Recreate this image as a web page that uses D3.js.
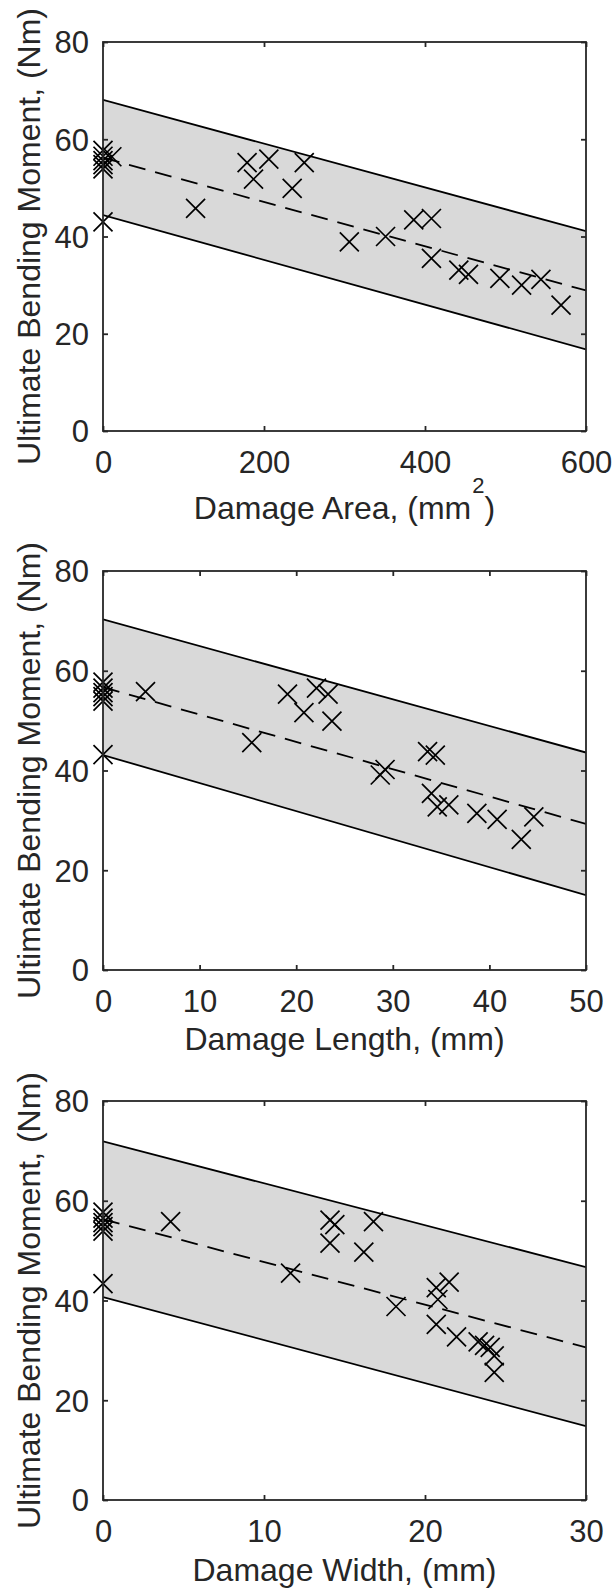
<!DOCTYPE html>
<html><head><meta charset="utf-8">
<script src="https://cdn.jsdelivr.net/npm/d3@7"></script>
<style>
html,body{margin:0;padding:0;background:#fff;}
svg{display:block;}
text{font-family:"Liberation Sans",Arial,sans-serif;fill:#262626;}
</style></head><body>
<svg id="chart" width="614" height="1591"></svg>
<script>
// Ultimate bending moment against three damage measures, with linear fit and bounds

const momentTicks = [0, 20, 40, 60, 80];

// Damage area (mm^2)
const areaTicks = [0, 200, 400, 600];
const areaX = [0, 0, 0, 0, 0, 0, 11, 115, 179, 187, 206, 235, 250, 306, 351, 386, 408, 408, 442, 454, 493, 520, 544, 569];
const areaY = [57.7, 56.5, 55.6, 54.8, 53.9, 43.0, 56.4, 45.8, 55.2, 51.8, 55.9, 49.9, 55.2, 38.9, 40.0, 43.4, 43.7, 35.5, 33.1, 32.2, 31.4, 30.0, 31.2, 25.9];
const areaLineX = [0, 600];
const areaUpper = [68.1, 41.1];
const areaFit = [56.2, 28.9];
const areaLower = [44.4, 16.8];

// Damage length (mm)
const lengthTicks = [0, 10, 20, 30, 40, 50];
const lengthX = [0, 0, 0, 0, 0, 0, 4.4, 15.4, 19.1, 20.8, 22.1, 23.3, 23.7, 28.7, 29.2, 33.6, 34.4, 34.0, 34.6, 35.8, 38.7, 40.8, 43.3, 44.6];
const lengthY = [57.7, 56.5, 55.6, 54.8, 53.9, 43.2, 55.8, 45.6, 55.3, 51.6, 56.5, 55.3, 49.9, 39.1, 40.2, 43.8, 43.1, 35.4, 32.7, 33.1, 31.4, 30.2, 26.2, 30.7];
const lengthLineX = [0, 50];
const lengthUpper = [70.3, 43.6];
const lengthFit = [56.7, 29.3];
const lengthLower = [43.1, 15.0];

// Damage width (mm)
const widthTicks = [0, 10, 20, 30];
const widthX = [0, 0, 0, 0, 0, 0, 4.2, 11.65, 14.1, 14.4, 14.1, 16.2, 16.8, 18.2, 20.7, 21.5, 20.8, 20.7, 21.96, 23.3, 23.7, 24.05, 24.3, 24.3];
const widthY = [57.7, 56.5, 55.6, 54.8, 53.9, 43.4, 55.8, 45.5, 56.1, 55.2, 51.5, 49.7, 55.8, 38.8, 42.6, 43.7, 40.2, 35.2, 32.7, 31.7, 31.0, 30.6, 28.9, 25.6];
const widthLineX = [0, 30];
const widthUpper = [71.9, 46.7];
const widthFit = [56.3, 30.6];
const widthLower = [40.7, 14.8];

const yLabel = "Ultimate Bending Moment, (Nm)";

const panels = [
  {top: 42, bottom: 431, domain: [0, 600], ticks: areaTicks, xs: areaX, ys: areaY,
   lx: areaLineX, up: areaUpper, fit: areaFit, lo: areaLower,
   label: ["Damage Area, (mm", "2", ")"], labelY: 519},
  {top: 571, bottom: 970, domain: [0, 50], ticks: lengthTicks, xs: lengthX, ys: lengthY,
   lx: lengthLineX, up: lengthUpper, fit: lengthFit, lo: lengthLower,
   label: ["Damage Length, (mm)"], labelY: 1050},
  {top: 1101, bottom: 1500, domain: [0, 30], ticks: widthTicks, xs: widthX, ys: widthY,
   lx: widthLineX, up: widthUpper, fit: widthFit, lo: widthLower,
   label: ["Damage Width, (mm)"], labelY: 1581}
];

const left = 103, right = 586;
const axisColor = "#262626";
const tickFont = 31, labelFont = 32;
const svg = d3.select("#chart");

panels.forEach((p, i) => {
  const x = d3.scaleLinear().domain(p.domain).range([left, right]);
  const y = d3.scaleLinear().domain([0, 80]).range([p.bottom, p.top]);
  const g = svg.append("g");
  const clipId = "clip" + i;
  svg.append("clipPath").attr("id", clipId).append("rect")
    .attr("x", left).attr("y", p.top).attr("width", right - left).attr("height", p.bottom - p.top);

  const plot = g.append("g").attr("clip-path", `url(#${clipId})`);

  // shaded band between the bounds
  const band = p.lx.map((v, k) => ({x: v, hi: p.up[k], lo: p.lo[k]}));
  plot.append("path")
    .attr("d", d3.area().x(d => x(d.x)).y0(d => y(d.lo)).y1(d => y(d.hi))(band))
    .attr("fill", "#d9d9d9").attr("stroke", "none");

  const line = d3.line().x(d => x(d[0])).y(d => y(d[1]));
  [p.up, p.lo].forEach(arr => {
    plot.append("path").attr("d", line(p.lx.map((v, k) => [v, arr[k]])))
      .attr("fill", "none").attr("stroke", "#000").attr("stroke-width", 1.8);
  });
  plot.append("path").attr("d", line(p.lx.map((v, k) => [v, p.fit[k]])))
    .attr("fill", "none").attr("stroke", "#000").attr("stroke-width", 1.8)
    .attr("stroke-dasharray", "17,10");

  // cross markers
  const h = 9.5;
  const pts = p.xs.map((v, k) => [x(v), y(p.ys[k])]);
  g.append("g").selectAll("path").data(pts).join("path")
    .attr("d", d => `M${d[0]-h},${d[1]-h}L${d[0]+h},${d[1]+h}M${d[0]-h},${d[1]+h}L${d[0]+h},${d[1]-h}`)
    .attr("fill", "none").attr("stroke", "#000").attr("stroke-width", 1.7);

  // axes with inward ticks on all four sides
  const tl = 5;
  const axB = g.append("g").attr("transform", `translate(0,${p.bottom})`)
    .call(d3.axisBottom(x).tickValues(p.ticks).tickSize(-tl).tickSizeOuter(0).tickPadding(20).tickFormat(d3.format("d")));
  const axT = g.append("g").attr("transform", `translate(0,${p.top})`)
    .call(d3.axisTop(x).tickValues(p.ticks).tickSize(-tl).tickSizeOuter(0).tickFormat(""));
  const axL = g.append("g").attr("transform", `translate(${left},0)`)
    .call(d3.axisLeft(y).tickValues(momentTicks).tickSize(-tl).tickSizeOuter(0).tickPadding(14).tickFormat(d3.format("d")));
  const axR = g.append("g").attr("transform", `translate(${right},0)`)
    .call(d3.axisRight(y).tickValues(momentTicks).tickSize(-tl).tickSizeOuter(0).tickFormat(""));
  [axB, axT, axL, axR].forEach(a => {
    a.select(".domain").remove();
    a.selectAll("line").attr("stroke", axisColor).attr("stroke-width", 1.8);
    a.selectAll("text").attr("font-size", tickFont).attr("fill", axisColor)
      .style("font-family", '"Liberation Sans", Arial, sans-serif');
  });
  axB.selectAll("text").attr("dy", null).attr("y", 42);
  axL.selectAll("text").attr("dy", "0.35em");

  // box
  g.append("rect").attr("x", left).attr("y", p.top)
    .attr("width", right - left).attr("height", p.bottom - p.top)
    .attr("fill", "none").attr("stroke", axisColor).attr("stroke-width", 1.8);

  // x label
  const xl = g.append("text").attr("x", (left + right) / 2).attr("y", p.labelY)
    .attr("text-anchor", "middle").attr("font-size", labelFont);
  xl.append("tspan").text(p.label[0]);
  if (p.label.length > 1) {
    xl.append("tspan").text(p.label[1]).attr("font-size", 22).attr("dy", -26).attr("dx", 1);
    xl.append("tspan").text(p.label[2]).attr("dy", 26);
  }

  // y label
  g.append("text")
    .attr("transform", `translate(39.5,${(p.top + p.bottom) / 2}) rotate(-90)`)
    .attr("text-anchor", "middle").attr("font-size", labelFont).text(yLabel);
});
</script>
</body></html>
